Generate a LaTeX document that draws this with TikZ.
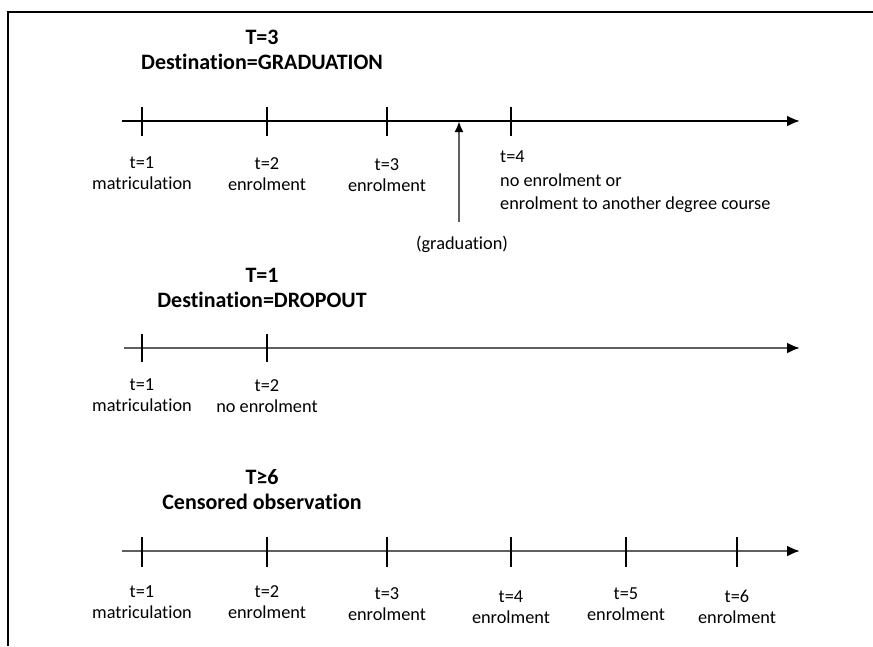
\documentclass[tikz,border=0pt]{standalone}
\usepackage{fontspec}
\setmainfont[Ligatures=NoCommon]{Carlito}
\usetikzlibrary{arrows.meta}
\definecolor{axisgray}{RGB}{95,95,95}
\tikzset{
  axisline/.style={line width=2.2pt, -{Latex[length=13pt,width=11pt]}},
  tickmark/.style={line width=1.3pt},
  lbl/.style={align=center, inner sep=0pt, font=\fontsize{18.3}{21}\selectfont},
  ttl/.style={align=center, inner sep=0pt, font=\bfseries\fontsize{22}{25}\selectfont},
}

\begin{document}
\begin{tikzpicture}[x=1pt, y=-1pt]
        \useasboundingbox (0,0) rectangle (873,646);
        \draw [line width=1.5pt] (8,646) -- (8,12) -- (873,12);
        % graduation
        \node [ttl] (ttlA) at (262,50) {T=3\\Destination=GRADUATION};
        \coordinate (axAs) at (122,121);
        \coordinate (axAe) at (800,121);
        \draw [axisline] (axAs) -- (axAe);
        \node [lbl] (lA1) at (142,173) {t=1\\matriculation};
        \node [lbl] (lA2) at (267,174) {t=2\\enrolment};
        \node [lbl] (lA3) at (387,175.5) {t=3\\enrolment};
        \node [lbl, align=left, anchor=west, font=\fontsize{18.3}{23.5}\selectfont] (lA4) at (500,182)
            {t=4\\no enrolment or\\enrolment to another degree course};
        \draw [tickmark] (142,107) -- (142,136);
        \draw [tickmark] (267,107) -- (267,136);
        \draw [tickmark] (387,107) -- (387,136);
        \draw [tickmark] (511,107) -- (511,136);
        \node [lbl] (grad) at (462,244) {(graduation)};
        \coordinate (gradfoot) at (459,222);
        \coordinate (gradtip) at (459,121);
        \draw [line width=2.2pt, axisgray, -{Latex[length=11pt,width=9pt,black]}] (gradfoot) -- (gradtip);
        % dropout
        \node [ttl] (ttlB) at (262,287.5) {T=1\\Destination=DROPOUT};
        \coordinate (axBs) at (124,348);
        \coordinate (axBe) at (800,348);
        \draw [axisline, axisgray, -{Latex[length=13pt,width=11pt,black]}] (axBs) -- (axBe);
        \draw [tickmark] (142,334) -- (142,362);
        \draw [tickmark] (267,334) -- (267,362);
        \node [lbl] (lB1) at (142,395.5) {t=1\\matriculation};
        \node [lbl] (lB2) at (267,396) {t=2\\no enrolment};
        % censored
        \node [ttl] (ttlC) at (262,489.5) {T≥6\\Censored observation};
        \coordinate (axCs) at (122,551);
        \coordinate (axCe) at (800,551);
        \draw [axisline, axisgray, -{Latex[length=13pt,width=11pt,black]}] (axCs) -- (axCe);
        \foreach \x/\y/\n/\w in {142/602/1/matriculation, 267/602/2/enrolment, 387/604.5/3/enrolment,
                                 511/607/4/enrolment, 626/604.5/5/enrolment, 737/606.5/6/enrolment} {
            \draw [tickmark] (\x,537) -- (\x,567);
            \node [lbl] (lC\n) at (\x,\y) {t=\n\\\w};
        }
\end{tikzpicture}
\end{document}
